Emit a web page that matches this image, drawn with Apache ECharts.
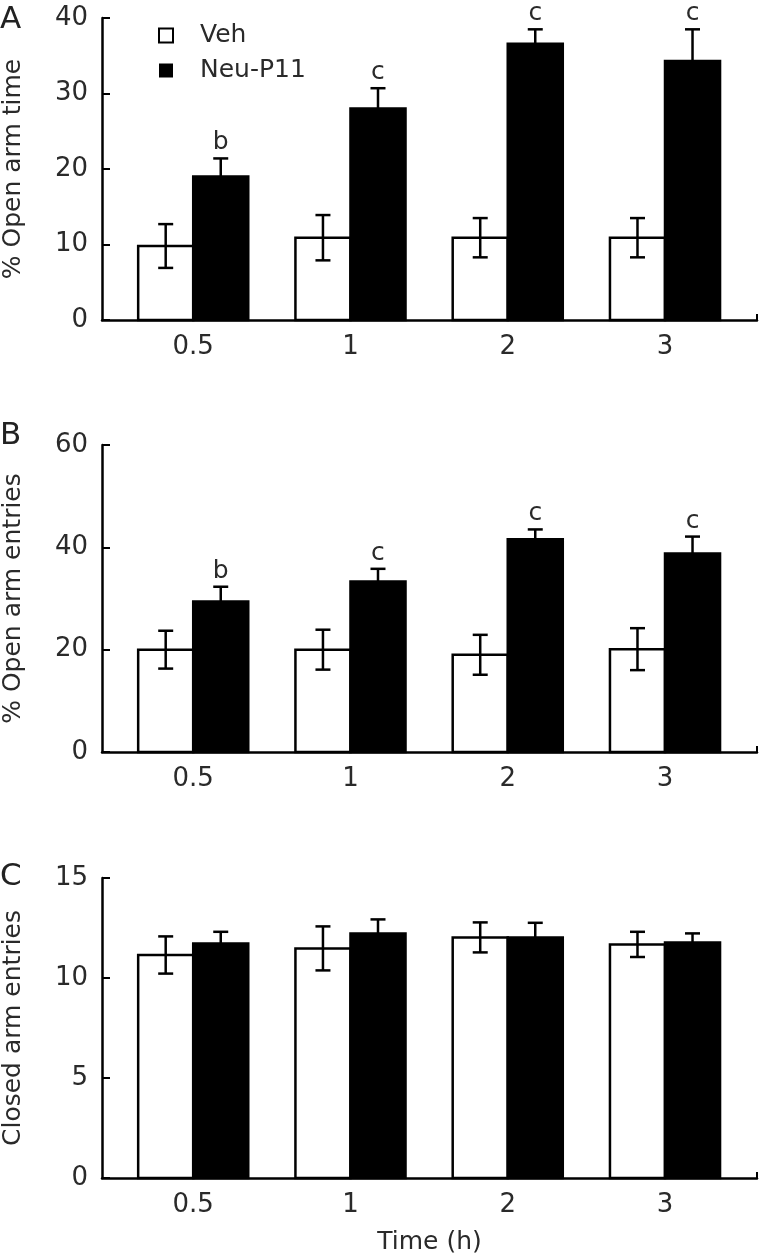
<!DOCTYPE html>
<html>
<head>
<meta charset="utf-8">
<script src="https://cdn.jsdelivr.net/npm/echarts@6/dist/echarts.min.js"></script>
<style>
html,body{margin:0;padding:0;background:#fff;}
#chart{width:762px;height:1257px;}
</style>
</head>
<body>
<div id="chart"></div>
<script>
// ---- data ----
const timeLabels = ['0.5', '1', '2', '3'];
const seriesNames = ['Veh', 'Neu-P11'];

const vehA = [9.8, 10.9, 10.9, 10.9];
const vehErrA = [2.9, 3.0, 2.6, 2.6];
const neuA = [19.0, 28.0, 36.6, 34.3];
const neuErrA = [2.4, 2.7, 1.9, 4.2];
const sigA = ['b', 'c', 'c', 'c'];

const vehB = [20.0, 20.0, 19.0, 20.1];
const vehErrB = [3.7, 3.9, 3.9, 4.1];
const neuB = [29.4, 33.3, 41.6, 38.8];
const neuErrB = [2.9, 2.5, 1.9, 3.3];
const sigB = ['b', 'c', 'c', 'c'];

const vehC = [11.15, 11.48, 12.03, 11.68];
const vehErrC = [0.93, 1.1, 0.75, 0.63];
const neuC = [11.73, 12.23, 12.03, 11.78];
const neuErrC = [0.58, 0.7, 0.73, 0.45];
const sigC = ['', '', '', ''];

const yTitles = ['% Open arm time', '% Open arm entries', 'Closed arm entries'];
const yMax = [40, 60, 15];
const yInterval = [10, 20, 5];
const panelLetters = ['A', 'B', 'C'];
const xTitle = 'Time (h)';

// ---- layout/style ----
const FONT = '"DejaVu Sans", sans-serif';
const TXT = '#2a2a2a';
const X_MIN = -0.58, X_MAX = 3.585;
const grids = [
  { left: 102, right: 5, top: 18, height: 302, outerBoundsMode: 'none', containLabel: false },
  { left: 102, right: 5, top: 445, height: 307, outerBoundsMode: 'none', containLabel: false },
  { left: 102, right: 5, top: 878, height: 300, outerBoundsMode: 'none', containLabel: false }
];
const letterTops = [4, 420, 861];

function toData(vals, errs) {
  return vals.map((v, i) => [i, v, errs[i]]);
}

function makeRender(side, letters) {
  return function (params, api) {
    const x = api.value(0), y = api.value(1), e = api.value(2);
    const band = api.size([1, 0])[0];
    const bw = band * 0.35;
    const c = api.coord([x, y]);
    const base = api.coord([x, 0]);
    const left = side === 0 ? c[0] - bw : c[0];
    const cx = left + bw / 2;
    const top = api.coord([x, y + e])[1];
    const bot = api.coord([x, y - e])[1];
    const capW = 15;
    const fill = side === 0 ? '#fff' : '#000';
    const children = [
      { type: 'rect', shape: { x: left, y: c[1], width: bw, height: base[1] - c[1] },
        style: { fill: fill, stroke: '#000', lineWidth: 2.5 } },
      { type: 'line', shape: { x1: cx, y1: top, x2: cx, y2: bot }, style: { stroke: '#000', lineWidth: 2.5 } },
      { type: 'line', shape: { x1: cx - capW / 2, y1: top, x2: cx + capW / 2, y2: top }, style: { stroke: '#000', lineWidth: 2.5 } },
      { type: 'line', shape: { x1: cx - capW / 2, y1: bot, x2: cx + capW / 2, y2: bot }, style: { stroke: '#000', lineWidth: 2.5 } }
    ];
    const lab = letters ? letters[params.dataIndex] : '';
    if (lab) {
      children.push({ type: 'text', style: { x: cx, y: top - 3, text: lab, align: 'center', verticalAlign: 'bottom',
        font: '25px ' + FONT, fill: TXT } });
    }
    return { type: 'group', children: children };
  };
}

const panels = [
  { veh: toData(vehA, vehErrA), neu: toData(neuA, neuErrA), sig: sigA },
  { veh: toData(vehB, vehErrB), neu: toData(neuB, neuErrB), sig: sigB },
  { veh: toData(vehC, vehErrC), neu: toData(neuC, neuErrC), sig: sigC }
];

const xAxes = grids.map((g, i) => ({
  type: 'value', gridIndex: i, min: X_MIN, max: X_MAX,
  splitLine: { show: false },
  axisLine: { show: true, onZero: false, lineStyle: { color: '#000', width: 2.5 } },
  axisTick: { show: true, inside: true, length: 6, customValues: [X_MAX], lineStyle: { color: '#000', width: 2 } },
  axisLabel: { customValues: [0, 1, 2, 3], formatter: v => timeLabels[Math.round(v)], color: TXT, fontSize: 26,
    fontFamily: FONT, margin: 14 },
  name: i === 2 ? xTitle : '', nameLocation: 'middle', nameGap: 52,
  nameTextStyle: { color: TXT, fontSize: 25, fontFamily: FONT }
}));

const yAxes = grids.map((g, i) => ({
  type: 'value', gridIndex: i, min: 0, max: yMax[i], interval: yInterval[i],
  splitLine: { show: false },
  axisLine: { show: true, onZero: false, lineStyle: { color: '#000', width: 2.5 } },
  axisTick: { show: true, inside: true, length: 8, lineStyle: { color: '#000', width: 2 } },
  axisLabel: { color: TXT, fontSize: 26, fontFamily: FONT, margin: 14 },
  name: yTitles[i], nameLocation: 'middle', nameGap: 76, nameRotate: 90,
  nameTextStyle: { color: TXT, fontSize: 25, fontFamily: FONT }
}));

const series = [];
panels.forEach((p, i) => {
  series.push({ type: 'custom', name: seriesNames[0], xAxisIndex: i, yAxisIndex: i, data: p.veh,
    encode: { x: 0, y: 1 }, renderItem: makeRender(0, null), itemStyle: { color: '#fff', borderColor: '#000' } });
  series.push({ type: 'custom', name: seriesNames[1], xAxisIndex: i, yAxisIndex: i, data: p.neu,
    encode: { x: 0, y: 1 }, renderItem: makeRender(1, p.sig), itemStyle: { color: '#000' } });
});

const option = {
  animation: false,
  backgroundColor: '#fff',
  title: panelLetters.map((t, i) => ({ text: t, left: 0, top: letterTops[i], padding: 0,
    textStyle: { fontSize: 31, fontWeight: 'normal', color: '#222', fontFamily: FONT } })),
  legend: {
    orient: 'vertical', left: 158, top: 23, itemWidth: 14, itemHeight: 14, itemGap: 10, padding: 0,
    textStyle: { color: TXT, fontSize: 25, fontFamily: FONT, padding: [0, 0, 0, 22] },
    data: [
      { name: seriesNames[0], icon: 'rect', itemStyle: { color: '#fff', borderColor: '#000', borderWidth: 2 } },
      { name: seriesNames[1], icon: 'rect', itemStyle: { color: '#000', borderWidth: 0 } }
    ]
  },
  grid: grids,
  xAxis: xAxes,
  yAxis: yAxes,
  series: series
};

const chart = echarts.init(document.getElementById('chart'), null, { renderer: 'canvas' });
chart.setOption(option);
</script>
</body>
</html>
